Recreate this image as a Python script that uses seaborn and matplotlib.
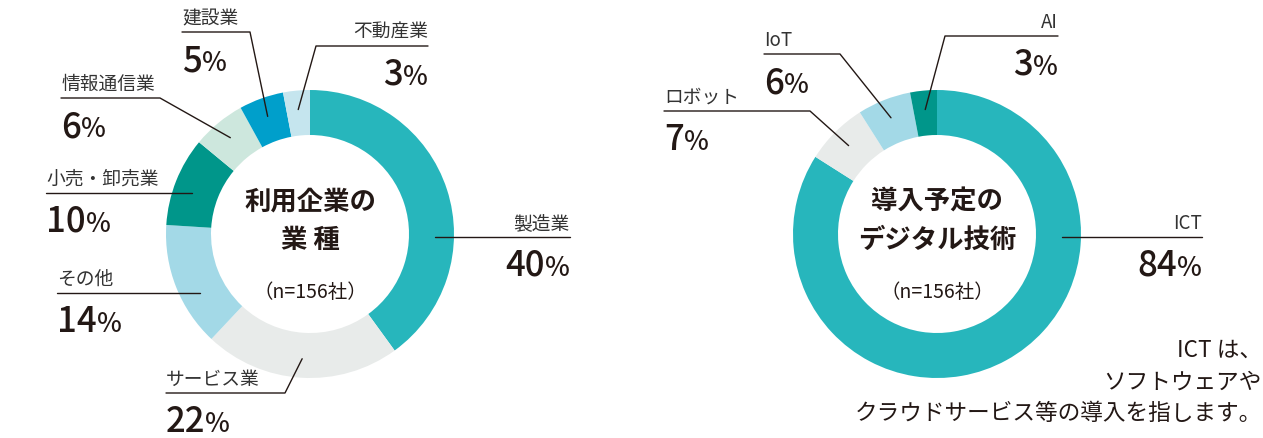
import numpy as np
import matplotlib
matplotlib.use("Agg")
import matplotlib.pyplot as plt
import seaborn as sns

# %% data
industries = ["製造業", "サービス業", "その他", "小売・卸売業", "情報通信業", "建設業", "不動産業"]
industry_share = [40, 22, 14, 10, 6, 5, 3]
techs = ["ICT", "ロボット", "IoT", "AI"]
tech_share = [84, 7, 6, 3]

industry_colors = ["#27b6bc", "#e8ebea", "#a3d9e7", "#00968a", "#cde7dd", "#009fcb", "#c5e5ee"]
tech_colors = ["#27b6bc", "#e8ebea", "#a3d9e7", "#00968a"]

# %% layout (pixels, y measured from the top)
W, H = 1263, 439
R_OUT, R_IN, R_ANCHOR = 144, 99, 125
TXT = "#231815"

# label: side, text x, underline y, elbow x (None = horizontal into ring)
industry_layout = {
    "製造業": ("right", 570, 238, None),
    "サービス業": ("left", 166, 394, 285),
    "その他": ("left", 57, 294, None),
    "小売・卸売業": ("left", 46, 194, None),
    "情報通信業": ("left", 61, 99, 160),
    "建設業": ("left", 182, 33, 250),
    "不動産業": ("right", 428, 47, 316),
}
tech_layout = {
    "ICT": ("right", 1202, 238, None),
    "ロボット": ("left", 664, 112, 810),
    "IoT": ("left", 764, 55, 840),
    "AI": ("right", 1058, 37, 945),
}

sns.set_theme(style="white")
plt.rcParams["font.family"] = ["Noto Sans CJK JP", "DejaVu Sans"]

fig = plt.figure(figsize=(W / 100, H / 100), dpi=100)
ax = fig.add_axes([0, 0, 1, 1])


def Y(y):
    return H - y


def donut(cx, cy, labels, values, colors, layout, title_lines):
    ax.pie(values, center=(cx, Y(cy)), radius=R_OUT, startangle=90,
           counterclock=False, colors=colors,
           wedgeprops=dict(width=R_OUT - R_IN, linewidth=0))

    total = float(sum(values))
    start = 0.0
    for lab, val in zip(labels, values):
        mid = (start + val / 2) / total
        start += val
        side, tx, ly, elbow = layout[lab]
        # leader line
        if elbow is None:
            dx = np.sqrt(R_ANCHOR ** 2 - (ly - cy) ** 2)
            ax_x = cx + dx if side == "right" else cx - dx
            xs = [ax_x, tx] if side == "right" else [tx, ax_x]
            ax.plot(xs, [Y(ly), Y(ly)], color=TXT, lw=1)
        else:
            ang = 2 * np.pi * mid
            px = cx + R_ANCHOR * np.sin(ang)
            py = cy - R_ANCHOR * np.cos(ang)
            ax.plot([tx, elbow, px], [Y(ly), Y(ly), Y(py)], color=TXT, lw=1)

        # category name
        ax.text(tx, Y(ly - 4), lab, ha=side, va="bottom", fontsize=13.5,
                color="#333333")
        # percentage, with a smaller % sign
        base = Y(ly + 38)
        if side == "left":
            num = ax.text(tx, base, f"{val}", ha="left", va="baseline",
                          fontsize=25, fontweight="medium", color=TXT)
            ax.annotate("%", xy=(1, 0), xycoords=num, xytext=(0, 1.2),
                        textcoords="offset points", ha="left", va="bottom",
                        fontsize=19, fontweight="medium", color=TXT)
        else:
            pct = ax.text(tx, base, "%", ha="right", va="baseline",
                          fontsize=19, fontweight="medium", color=TXT)
            ax.annotate(f"{val}", xy=(0, 0), xycoords=pct, xytext=(0, -1.2),
                        textcoords="offset points", ha="right", va="bottom",
                        fontsize=25, fontweight="medium", color=TXT)

    # center text
    ax.text(cx, Y(202), title_lines[0], ha="center", va="center",
            fontsize=19, fontweight="bold", color=TXT)
    ax.text(cx, Y(240), title_lines[1], ha="center", va="center",
            fontsize=19, fontweight="bold", color=TXT)
    ax.text(cx, Y(292), "（n=156社）", ha="center", va="center",
            fontsize=14, color=TXT)


donut(310, 235, industries, industry_share, industry_colors, industry_layout,
      ["利用企業の", "業 種"])
donut(937, 235, techs, tech_share, tech_colors, tech_layout,
      ["導入予定の", "デジタル技術"])

# footnote
notes = ["ICT は、", "ソフトウェアや", "クラウドサービス等の導入を指します。"]
for line, y in zip(notes, [350, 382, 413]):
    ax.text(1262, Y(y), line, ha="right", va="center", fontsize=16.3, color=TXT)

ax.set_xlim(0, W)
ax.set_ylim(0, H)
ax.set_aspect("equal")
ax.axis("off")

fig.savefig("out.png", dpi=100, facecolor="white")
